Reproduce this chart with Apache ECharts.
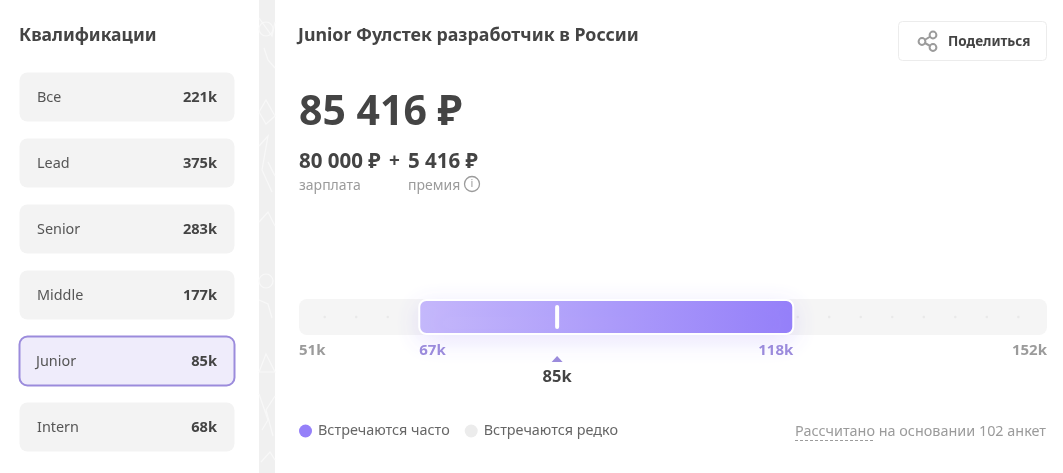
<!DOCTYPE html>
<html>
<head>
<meta charset="utf-8">
<style>
html,body{margin:0;padding:0;background:#fff}
#js_chart{width:1063px;height:473px}
</style>
<script src="https://cdn.jsdelivr.net/npm/echarts@6/dist/echarts.min.js"></script>
</head>
<body>
<div id="js_chart"></div>
<script>
var grades = ['Все', 'Lead', 'Senior', 'Middle', 'Junior', 'Intern'];
var gradeValues = [221, 375, 283, 177, 85, 68];
var activeGrade = 'Junior';
var axisMin = 50.6, axisMax = 152.6;
var edgeTicks = [51, 152];
var rangeLow = 67, rangeHigh = 118;
var medianValue = 85.8;
var medianLabel = '85k';
var trackDots = [54.1, 58.4, 62.7, 118.6, 122.9, 127.2, 131.5, 135.8, 140.1, 144.4, 148.7];
var font = '"Noto Sans", sans-serif';
var dark = '#444444', gray = '#9b9b9b', purple = '#9b8bdc';

var myChart = echarts.init(document.getElementById('js_chart'));

function txt(x, y, text, size, color, weight, align){
    return {
        type: 'text', x: x, y: y, silent: true,
        style: {text: text, font: (weight || 400) + ' ' + size + 'px ' + font, fill: color, align: align || 'left', verticalAlign: 'middle'}
    };
}
// faint white doodles on the grey strip between the panels
function doodle(points){
    return {type: 'polyline', shape: {points: points}, style: {stroke: '#f8f8f8', fill: 'none', lineWidth: 1.2}, silent: true};
}
function ring(cy){
    return {type: 'circle', shape: {cx: 266, cy: cy, r: 7}, style: {stroke: '#f8f8f8', fill: 'none', lineWidth: 1.2}, silent: true};
}

var statics = [
    {type: 'rect', shape: {x: 259, y: 0, width: 16, height: 473}, style: {fill: '#f0f0f0'}, silent: true},
    ring(29), ring(281),
    doodle([[259,18],[272,36],[275,22]]),
    doodle([[264,48],[268,60],[275,68]]),
    doodle([[259,112],[266,100],[275,116],[266,124],[259,112]]),
    doodle([[259,146],[268,136],[262,170],[272,192]]),
    doodle([[268,162],[275,176]]),
    doodle([[259,222],[268,212],[275,226]]),
    doodle([[259,300],[268,304],[272,318]]),
    doodle([[259,372],[266,354],[275,372],[259,372]]),
    doodle([[259,394],[268,420],[262,430]]),
    doodle([[275,396],[266,410],[273,436]]),
    doodle([[261,462],[270,452],[275,460]]),
    txt(19, 36, 'Квалификации', 17.5, dark, 700),
    txt(298, 36, 'Junior Фулстек разработчик в России', 17.8, dark, 700),
    txt(299, 113, '85 416 ₽', 41, dark, 700),
    txt(299, 162, '80 000 ₽', 20.5, dark, 700),
    txt(389, 162, '+', 19, dark, 700),
    txt(408, 162, '5 416 ₽', 20.5, dark, 700),
    txt(299, 186, 'зарплата', 14, gray),
    txt(408, 186, 'премия', 14, gray),
    {type: 'circle', shape: {cx: 472, cy: 184, r: 7.5}, style: {fill: 'none', stroke: gray, lineWidth: 1.3}, silent: true},
    txt(472, 184, 'i', 11, gray, 400, 'center'),
    {type: 'rect', shape: {x: 898.5, y: 21.5, width: 148, height: 39, r: 4}, style: {fill: '#fff', stroke: '#ececec', lineWidth: 1}, silent: true},
    {type: 'polyline', shape: {points: [[933,35],[922,41.5],[933,47.5]]}, style: {fill: 'none', stroke: gray, lineWidth: 2}, silent: true},
    {type: 'circle', shape: {cx: 933, cy: 35, r: 3.4}, style: {fill: '#fff', stroke: gray, lineWidth: 2}, silent: true},
    {type: 'circle', shape: {cx: 922, cy: 41.5, r: 3.4}, style: {fill: '#fff', stroke: gray, lineWidth: 2}, silent: true},
    {type: 'circle', shape: {cx: 933, cy: 47.5, r: 3.4}, style: {fill: '#fff', stroke: gray, lineWidth: 2}, silent: true},
    txt(948, 42.5, 'Поделиться', 13.5, dark, 700),
    txt(1046, 431.5, 'Рассчитано на основании 102 анкет', 14.4, gray, 400, 'right'),
    {type: 'line', shape: {x1: 795, y1: 440.5, x2: 874, y2: 440.5}, style: {stroke: gray, lineWidth: 1, lineDash: [3, 2]}, silent: true}
];

var option = {
    animation: false,
    backgroundColor: '#fff',
    textStyle: {fontFamily: font},
    legend: {
        left: 299, top: 424, padding: 0,
        itemWidth: 15, itemHeight: 13, itemGap: 15,
        textStyle: {color: '#666', fontSize: 14.4, fontFamily: font},
        selectedMode: false,
        data: [
            {name: 'Встречаются часто', icon: 'circle', itemStyle: {color: '#9580f9'}},
            {name: 'Встречаются редко', icon: 'circle', itemStyle: {color: '#ececec'}}
        ]
    },
    grid: [
        {left: 19, top: 64, width: 216, height: 396},
        {left: 299, top: 299, width: 748, height: 36}
    ],
    xAxis: [
        {gridIndex: 0, type: 'value', min: 0, max: 1, show: false},
        {gridIndex: 1, type: 'value', min: axisMin, max: axisMax, show: false}
    ],
    yAxis: [
        {gridIndex: 0, type: 'category', data: grades, inverse: true, show: false},
        {gridIndex: 1, type: 'value', min: 0, max: 1, show: false}
    ],
    series: [
        {
            type: 'custom', name: 'Квалификации', xAxisIndex: 0, yAxisIndex: 0,
            data: grades.map(function(g, i){ return [i, gradeValues[i]]; }),
            encode: {y: 0},
            renderItem: function(params, api){
                var i = api.value(0);
                var c = api.coord([0, i]);
                var on = grades[i] === activeGrade;
                return {type: 'group', children: [
                    {type: 'rect', shape: {x: 19.5, y: c[1] - 24.5, width: 215, height: 49, r: 8},
                     style: {fill: on ? '#efecfb' : '#f3f3f3', stroke: on ? purple : null, lineWidth: on ? 2 : 0}},
                    {type: 'text', x: on ? 36 : 37, y: c[1] + 1, style: {text: grades[i], font: '400 14.4px ' + font, fill: '#555', verticalAlign: 'middle'}},
                    {type: 'text', x: 217, y: c[1] + 1, style: {text: api.value(1) + 'k', font: '700 14.6px ' + font, fill: dark, align: 'right', verticalAlign: 'middle'}}
                ]};
            }
        },
        {
            type: 'custom', name: 'Встречаются редко', xAxisIndex: 1, yAxisIndex: 1, z: 1,
            itemStyle: {color: '#ececec'},
            data: [[axisMin, axisMax]],
            renderItem: function(params, api){
                var a = api.coord([api.value(0), 1]), b = api.coord([api.value(1), 0]);
                return {type: 'rect', shape: {x: a[0], y: a[1], width: b[0] - a[0], height: b[1] - a[1], r: 8}, style: {fill: '#f5f5f5'}};
            }
        },
        {
            type: 'scatter', name: 'dots', xAxisIndex: 1, yAxisIndex: 1, z: 2,
            symbolSize: 2.5, itemStyle: {color: '#e6e6e6'}, silent: true,
            data: trackDots.map(function(v){ return [v, 0.5]; })
        },
        {
            type: 'custom', name: 'Встречаются часто', xAxisIndex: 1, yAxisIndex: 1, z: 3,
            itemStyle: {color: '#9580f9'},
            data: [[rangeLow, rangeHigh]],
            renderItem: function(params, api){
                var a = api.coord([api.value(0), 1]), b = api.coord([api.value(1), 0]);
                return {type: 'rect', shape: {x: a[0], y: a[1] + 1, width: b[0] - a[0], height: b[1] - a[1] - 2, r: 7},
                    style: {
                        fill: new echarts.graphic.LinearGradient(0, 0, 1, 0, [{offset: 0, color: '#c6b9fb'}, {offset: 1, color: '#9580f9'}]),
                        stroke: '#fff', lineWidth: 2,
                        shadowBlur: 24, shadowOffsetY: 6, shadowColor: 'rgba(149,128,249,0.2)'
                    }};
            }
        },
        {
            type: 'custom', name: 'median', xAxisIndex: 1, yAxisIndex: 1, z: 4,
            data: [[medianValue]],
            renderItem: function(params, api){
                var c = api.coord([api.value(0), 0.5]);
                return {type: 'group', children: [
                    {type: 'rect', shape: {x: c[0] - 2, y: c[1] - 12, width: 4, height: 24, r: 2}, style: {fill: '#fff'}},
                    {type: 'polygon', shape: {points: [[c[0] - 5.5, 362], [c[0] + 5.5, 362], [c[0], 356]]}, style: {fill: purple}},
                    {type: 'text', x: c[0], y: 377, style: {text: medianLabel, font: '700 16.5px ' + font, fill: dark, align: 'center', verticalAlign: 'middle'}}
                ]};
            }
        },
        {
            type: 'custom', name: 'labels', xAxisIndex: 1, yAxisIndex: 1, z: 4,
            data: [[edgeTicks[0], gray, 'left', 299], [rangeLow, purple, 'left', 0], [rangeHigh, purple, 'right', 0], [edgeTicks[1], gray, 'right', 1047]].map(function(d){ return {value: [d[0]], tc: d[1], ta: d[2], fx: d[3]}; }),
            renderItem: function(params, api){
                var d = option.series[5].data[params.dataIndex];
                var c = api.coord([api.value(0), 0]);
                return {type: 'text', x: d.fx || c[0], y: 351, style: {text: api.value(0) + 'k', font: '700 15px ' + font, fill: d.tc, align: d.ta, verticalAlign: 'middle'}};
            }
        }
    ],
    graphic: statics
};
myChart.setOption(option);
window.onresize = function(){ myChart.resize(); };
</script>
</body>
</html>
